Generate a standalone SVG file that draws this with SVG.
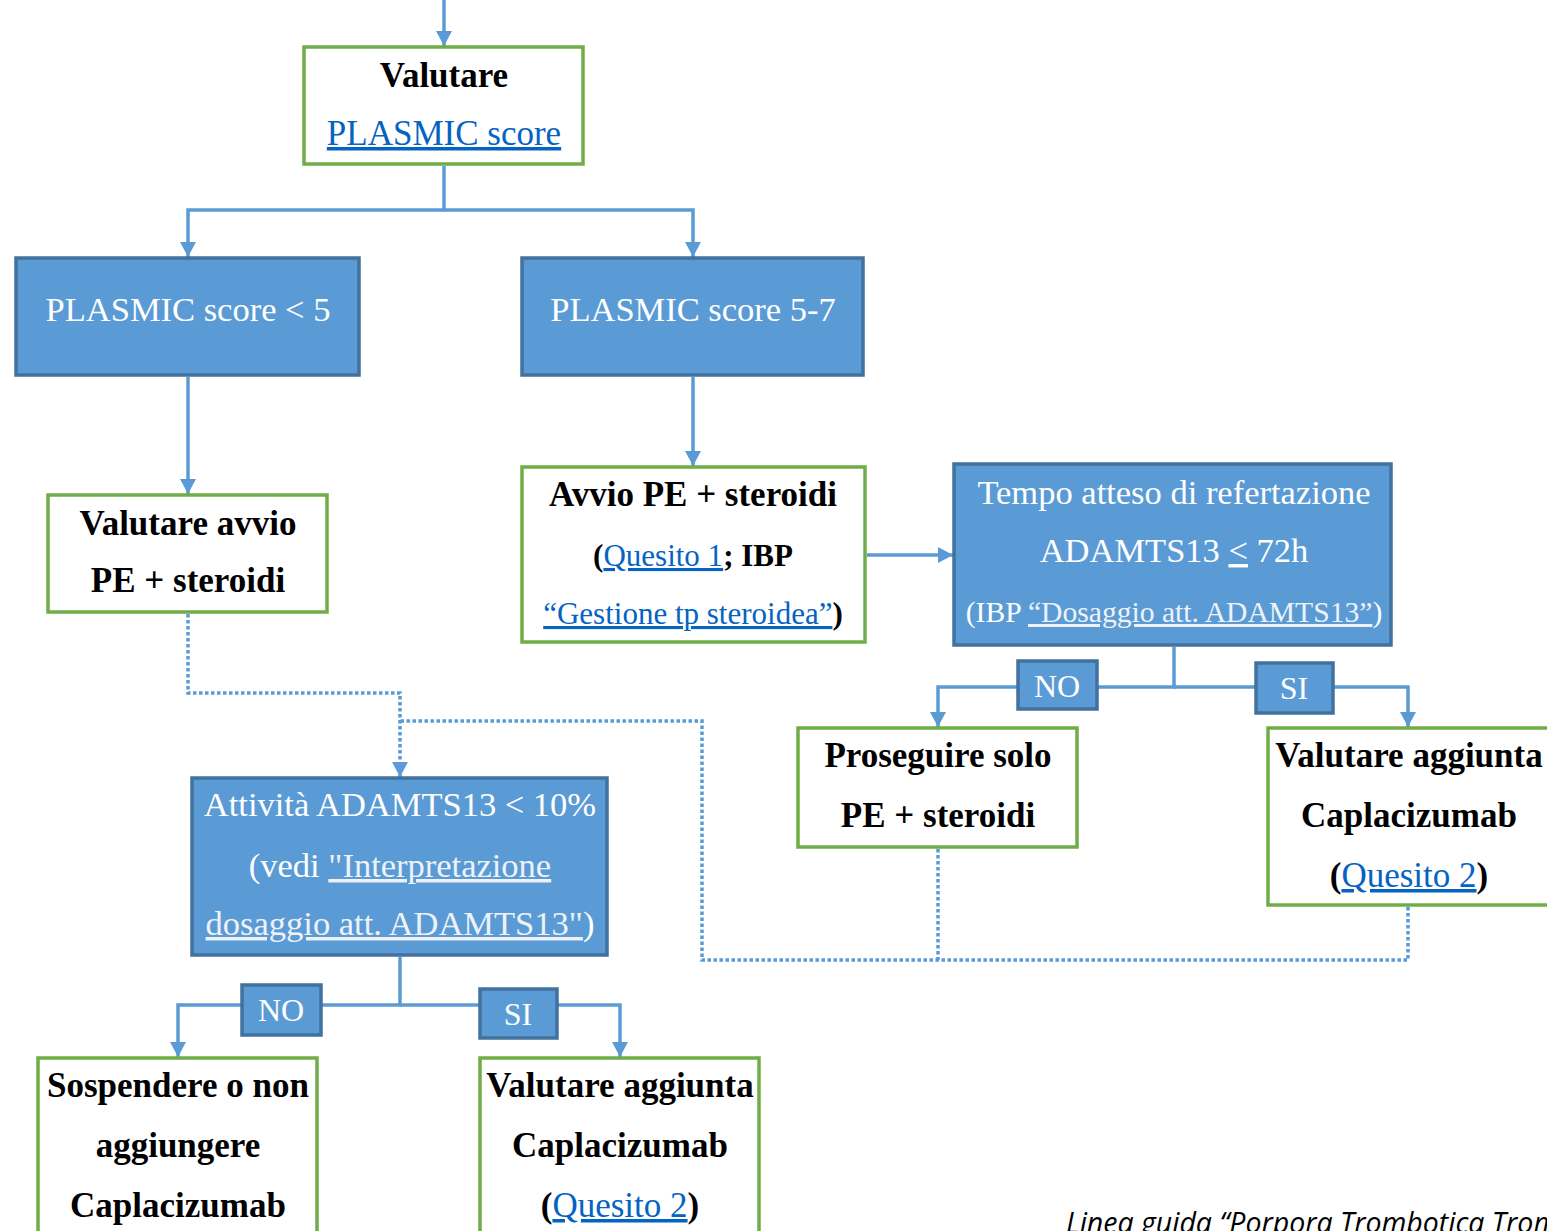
<svg xmlns="http://www.w3.org/2000/svg" width="1547" height="1231" viewBox="0 0 1547 1231">
<style>
.g{fill:#fff;stroke:#70AD47;stroke-width:3.5}
.b{fill:#5B9BD5;stroke:#41719C;stroke-width:3.5}
.tk{font-family:"Liberation Serif","Times New Roman",serif;font-size:35px;font-weight:bold;fill:#000;text-anchor:middle}
.tw{font-family:"Liberation Serif","Times New Roman",serif;font-size:34.5px;fill:#fff;text-anchor:middle}
.tl{font-family:"Liberation Serif","Times New Roman",serif;font-size:32px;fill:#fff;text-anchor:middle}
.lk{fill:#0563C1;font-weight:normal;text-decoration:underline}
.lw{text-decoration:underline;fill:#EEF2F8}
.c{fill:none;stroke:#5B9BD5;stroke-width:3.5}
.d{fill:none;stroke:#5B9BD5;stroke-width:3.5;stroke-dasharray:3.5 2.5}
.ft{font-family:"Open Sans","Liberation Sans",sans-serif;font-size:28.5px;font-style:italic;fill:#000}
</style>
<defs>
<marker id="ah" markerUnits="userSpaceOnUse" markerWidth="16" markerHeight="16" refX="15" refY="8" orient="auto">
<path d="M0,0 L15,8 L0,16 z" fill="#5B9BD5"/>
</marker>
</defs>
<g id="connectors">
<path class="c" d="M444,0 V46" marker-end="url(#ah)"/>
<path class="c" d="M444,166 V210 H188 V257" marker-end="url(#ah)"/>
<path class="c" d="M444,210 H693 V257" marker-end="url(#ah)"/>
<path class="c" d="M188,377 V494" marker-end="url(#ah)"/>
<path class="c" d="M693,377 V466" marker-end="url(#ah)"/>
<path class="c" d="M867,555 H953" marker-end="url(#ah)"/>
<path class="c" d="M1174,647 V687 H938 V727" marker-end="url(#ah)"/>
<path class="c" d="M1174,687 H1408 V727" marker-end="url(#ah)"/>
<path class="c" d="M400,957 V1005 H178 V1057" marker-end="url(#ah)"/>
<path class="c" d="M400,1005 H620 V1057" marker-end="url(#ah)"/>
<path class="d" d="M188,614 V693 H400 V777" marker-end="url(#ah)"/>
<path class="d" d="M1408,907 V960 H702 V721 H400"/>
<path class="d" d="M938,849 V960"/>
</g>
<g id="n-valutare">
<rect class="g" x="304" y="47" width="279" height="117"/>
<text class="tk" x="444" y="87">Valutare</text>
<text class="tk" x="444" y="145"><tspan class="lk">PLASMIC score</tspan></text>
</g>
<g id="n-lt5">
<rect class="b" x="16" y="258" width="343" height="117"/>
<text class="tw" x="188" y="321">PLASMIC score &lt; 5</text>
</g>
<g id="n-57">
<rect class="b" x="522" y="258" width="341" height="117"/>
<text class="tw" x="693" y="321">PLASMIC score 5-7</text>
</g>
<g id="n-valavvio">
<rect class="g" x="48" y="495" width="279" height="117"/>
<text class="tk" x="188" y="535">Valutare avvio</text>
<text class="tk" x="188" y="592">PE + steroidi</text>
</g>
<g id="n-avvio">
<rect class="g" x="522" y="467" width="343" height="175"/>
<text class="tk" x="693" y="506">Avvio PE + steroidi</text>
<text class="tk" x="693" y="566" style="font-size:31px">(<tspan class="lk">Quesito 1</tspan>; IBP</text>
<text class="tk" x="693" y="624" style="font-size:31px"><tspan class="lk">“Gestione tp steroidea”</tspan>)</text>
</g>
<g id="n-tempo">
<rect class="b" x="954" y="464" width="437" height="181"/>
<text class="tw" x="1174" y="504">Tempo atteso di refertazione</text>
<text class="tw" x="1174" y="562">ADAMTS13 <tspan text-decoration="underline">&lt;</tspan> 72h</text>
<text class="tl" x="1174" y="622" style="font-size:29.6px">(IBP <tspan class="lw">“Dosaggio att. ADAMTS13”</tspan>)</text>
</g>
<g id="l-no1">
<rect class="b" x="1018" y="661" width="79" height="48"/>
<text class="tl" x="1057" y="697">NO</text>
</g>
<g id="l-si1">
<rect class="b" x="1256" y="663" width="77" height="50"/>
<text class="tl" x="1294" y="699">SI</text>
</g>
<g id="n-proseguire">
<rect class="g" x="798" y="728" width="279" height="119"/>
<text class="tk" x="938" y="767">Proseguire solo</text>
<text class="tk" x="938" y="827">PE + steroidi</text>
</g>
<g id="n-aggiunta1">
<rect class="g" x="1268" y="728" width="285" height="177"/>
<text class="tk" x="1409" y="767">Valutare aggiunta</text>
<text class="tk" x="1409" y="827">Caplacizumab</text>
<text class="tk" x="1409" y="887">(<tspan class="lk">Quesito 2</tspan>)</text>
</g>
<g id="n-attivita">
<rect class="b" x="192" y="778" width="415" height="177"/>
<text class="tw" x="400" y="816">Attività ADAMTS13 &lt; 10%</text>
<text class="tw" x="400" y="877">(vedi <tspan class="lw">"Interpretazione</tspan></text>
<text class="tw" x="400" y="935"><tspan class="lw">dosaggio att. ADAMTS13"</tspan>)</text>
</g>
<g id="l-no2">
<rect class="b" x="242" y="985" width="79" height="50"/>
<text class="tl" x="281" y="1021">NO</text>
</g>
<g id="l-si2">
<rect class="b" x="480" y="989" width="77" height="49"/>
<text class="tl" x="518" y="1025">SI</text>
</g>
<g id="n-sospendere">
<rect class="g" x="38" y="1058" width="279" height="180"/>
<text class="tk" x="178" y="1097">Sospendere o non</text>
<text class="tk" x="178" y="1157">aggiungere</text>
<text class="tk" x="178" y="1217">Caplacizumab</text>
</g>
<g id="n-aggiunta2">
<rect class="g" x="480" y="1058" width="279" height="180"/>
<text class="tk" x="620" y="1097">Valutare aggiunta</text>
<text class="tk" x="620" y="1157">Caplacizumab</text>
<text class="tk" x="620" y="1217">(<tspan class="lk">Quesito 2</tspan>)</text>
</g>
<text class="ft" x="1066" y="1233">Linea guida “Porpora Trombotica Trom</text>
</svg>
